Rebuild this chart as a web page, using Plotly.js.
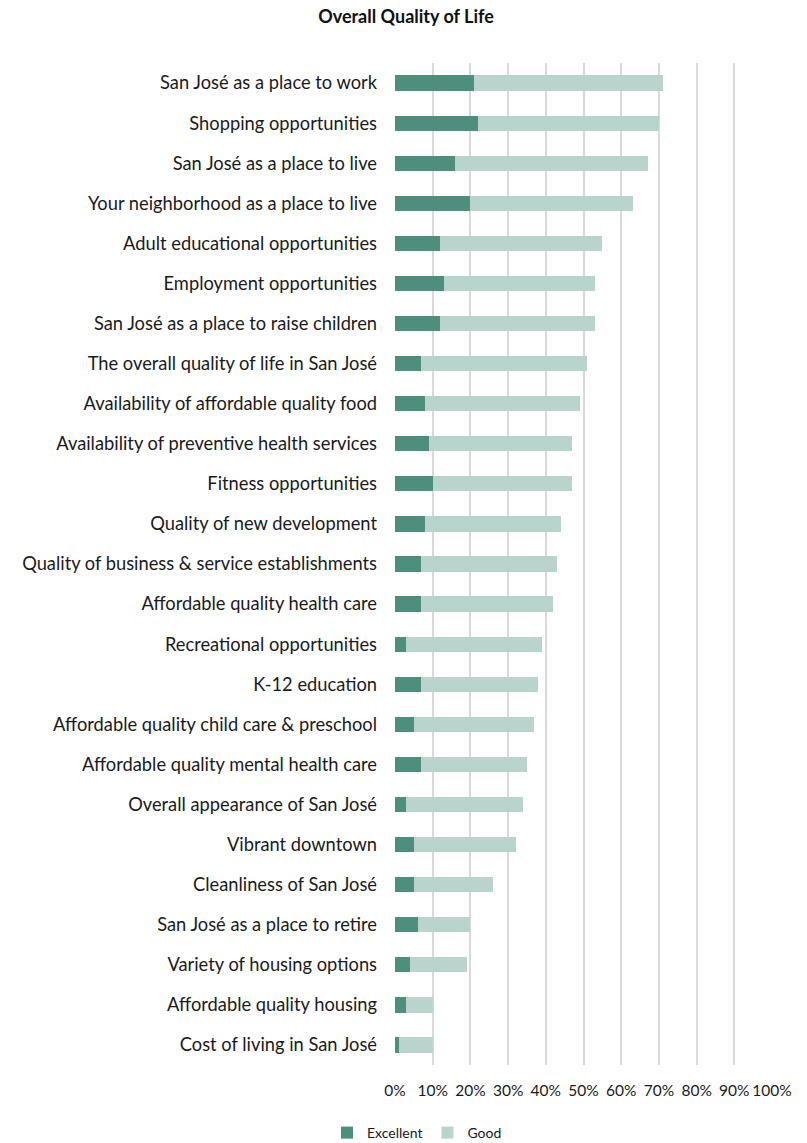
<!DOCTYPE html>
<html>
<head>
<meta charset="utf-8">
<script src="https://cdn.plot.ly/plotly-3.0.1.min.js"></script>
<style>html,body{margin:0;padding:0;background:#fff;}#chart{width:807px;height:1143px;}</style>
</head>
<body>
<div id="chart"></div>
<script>
const categories = [
  "San José as a place to work",
  "Shopping opportunities",
  "San José as a place to live",
  "Your neighborhood as a place to live",
  "Adult educational opportunities",
  "Employment opportunities",
  "San José as a place to raise children",
  "The overall quality of life in San José",
  "Availability of affordable quality food",
  "Availability of preventive health services",
  "Fitness opportunities",
  "Quality of new development",
  "Quality of business & service establishments",
  "Affordable quality health care",
  "Recreational opportunities",
  "K-12 education",
  "Affordable quality child care & preschool",
  "Affordable quality mental health care",
  "Overall appearance of San José",
  "Vibrant downtown",
  "Cleanliness of San José",
  "San José as a place to retire",
  "Variety of housing options",
  "Affordable quality housing",
  "Cost of living in San José"
];
const excellent = [21, 22, 16, 20, 12, 13, 12, 7, 8, 9, 10, 8, 7, 7, 3, 7, 5, 7, 3, 5, 5, 6, 4, 3, 1];
const good      = [50, 48, 51, 43, 43, 40, 41, 44, 41, 38, 37, 36, 36, 35, 36, 31, 32, 28, 31, 27, 21, 14, 15, 7, 9];
const tickVals = [0, 10, 20, 30, 40, 50, 60, 70, 80, 90, 100];
const tickText = ["0%", "10%", "20%", "30%", "40%", "50%", "60%", "70%", "80%", "90%", "100%"];

const FONT = "Lato, 'Open Sans', sans-serif";
const data = [
  {type: "bar", orientation: "h", name: "Excellent", y: categories, x: excellent,
   marker: {color: "#4e8e7c"}, width: 0.38, hoverinfo: "x+y"},
  {type: "bar", orientation: "h", name: "Good", y: categories, x: good,
   marker: {color: "#b9d4cc"}, width: 0.38, hoverinfo: "x+y"}
];
const layout = {
  width: 807, height: 1143,
  barmode: "stack",
  paper_bgcolor: "#fff", plot_bgcolor: "#fff",
  font: {family: FONT, size: 15, color: "#1a1a1a"},
  margin: {l: 395, r: 35, t: 63, b: 78},
  title: {text: "<b>Overall Quality of Life</b>", font: {family: FONT, size: 18, color: "#111"},
          x: 406/807, xref: "container", xanchor: "center", y: 1 - 17/1143, yref: "container", yanchor: "middle"},
  xaxis: {range: [0, 100], tickvals: tickVals, ticktext: tickText, showgrid: true,
          gridcolor: "#d9d9d9", gridwidth: 2, zeroline: false, showline: false,
          ticks: "", tickangle: 0, ticklabelstandoff: 14, tickfont: {size: 15.5, color: "#1a1a1a"}, fixedrange: true},
  yaxis: {autorange: "reversed", type: "category", showgrid: false, zeroline: false, showline: false,
          ticks: "", ticklabelstandoff: 17, tickfont: {size: 18.3, color: "#1a1a1a"}, fixedrange: true},
  legend: {orientation: "h", xref: "container", x: 417/807, xanchor: "center",
           yref: "container", y: 1 - 1133/1143, yanchor: "middle",
           font: {size: 14, color: "#1a1a1a"}, traceorder: "normal", itemwidth: 30},
  showlegend: true
};
Plotly.newPlot("chart", data, layout, {displayModeBar: false, staticPlot: true});
</script>
</body>
</html>
